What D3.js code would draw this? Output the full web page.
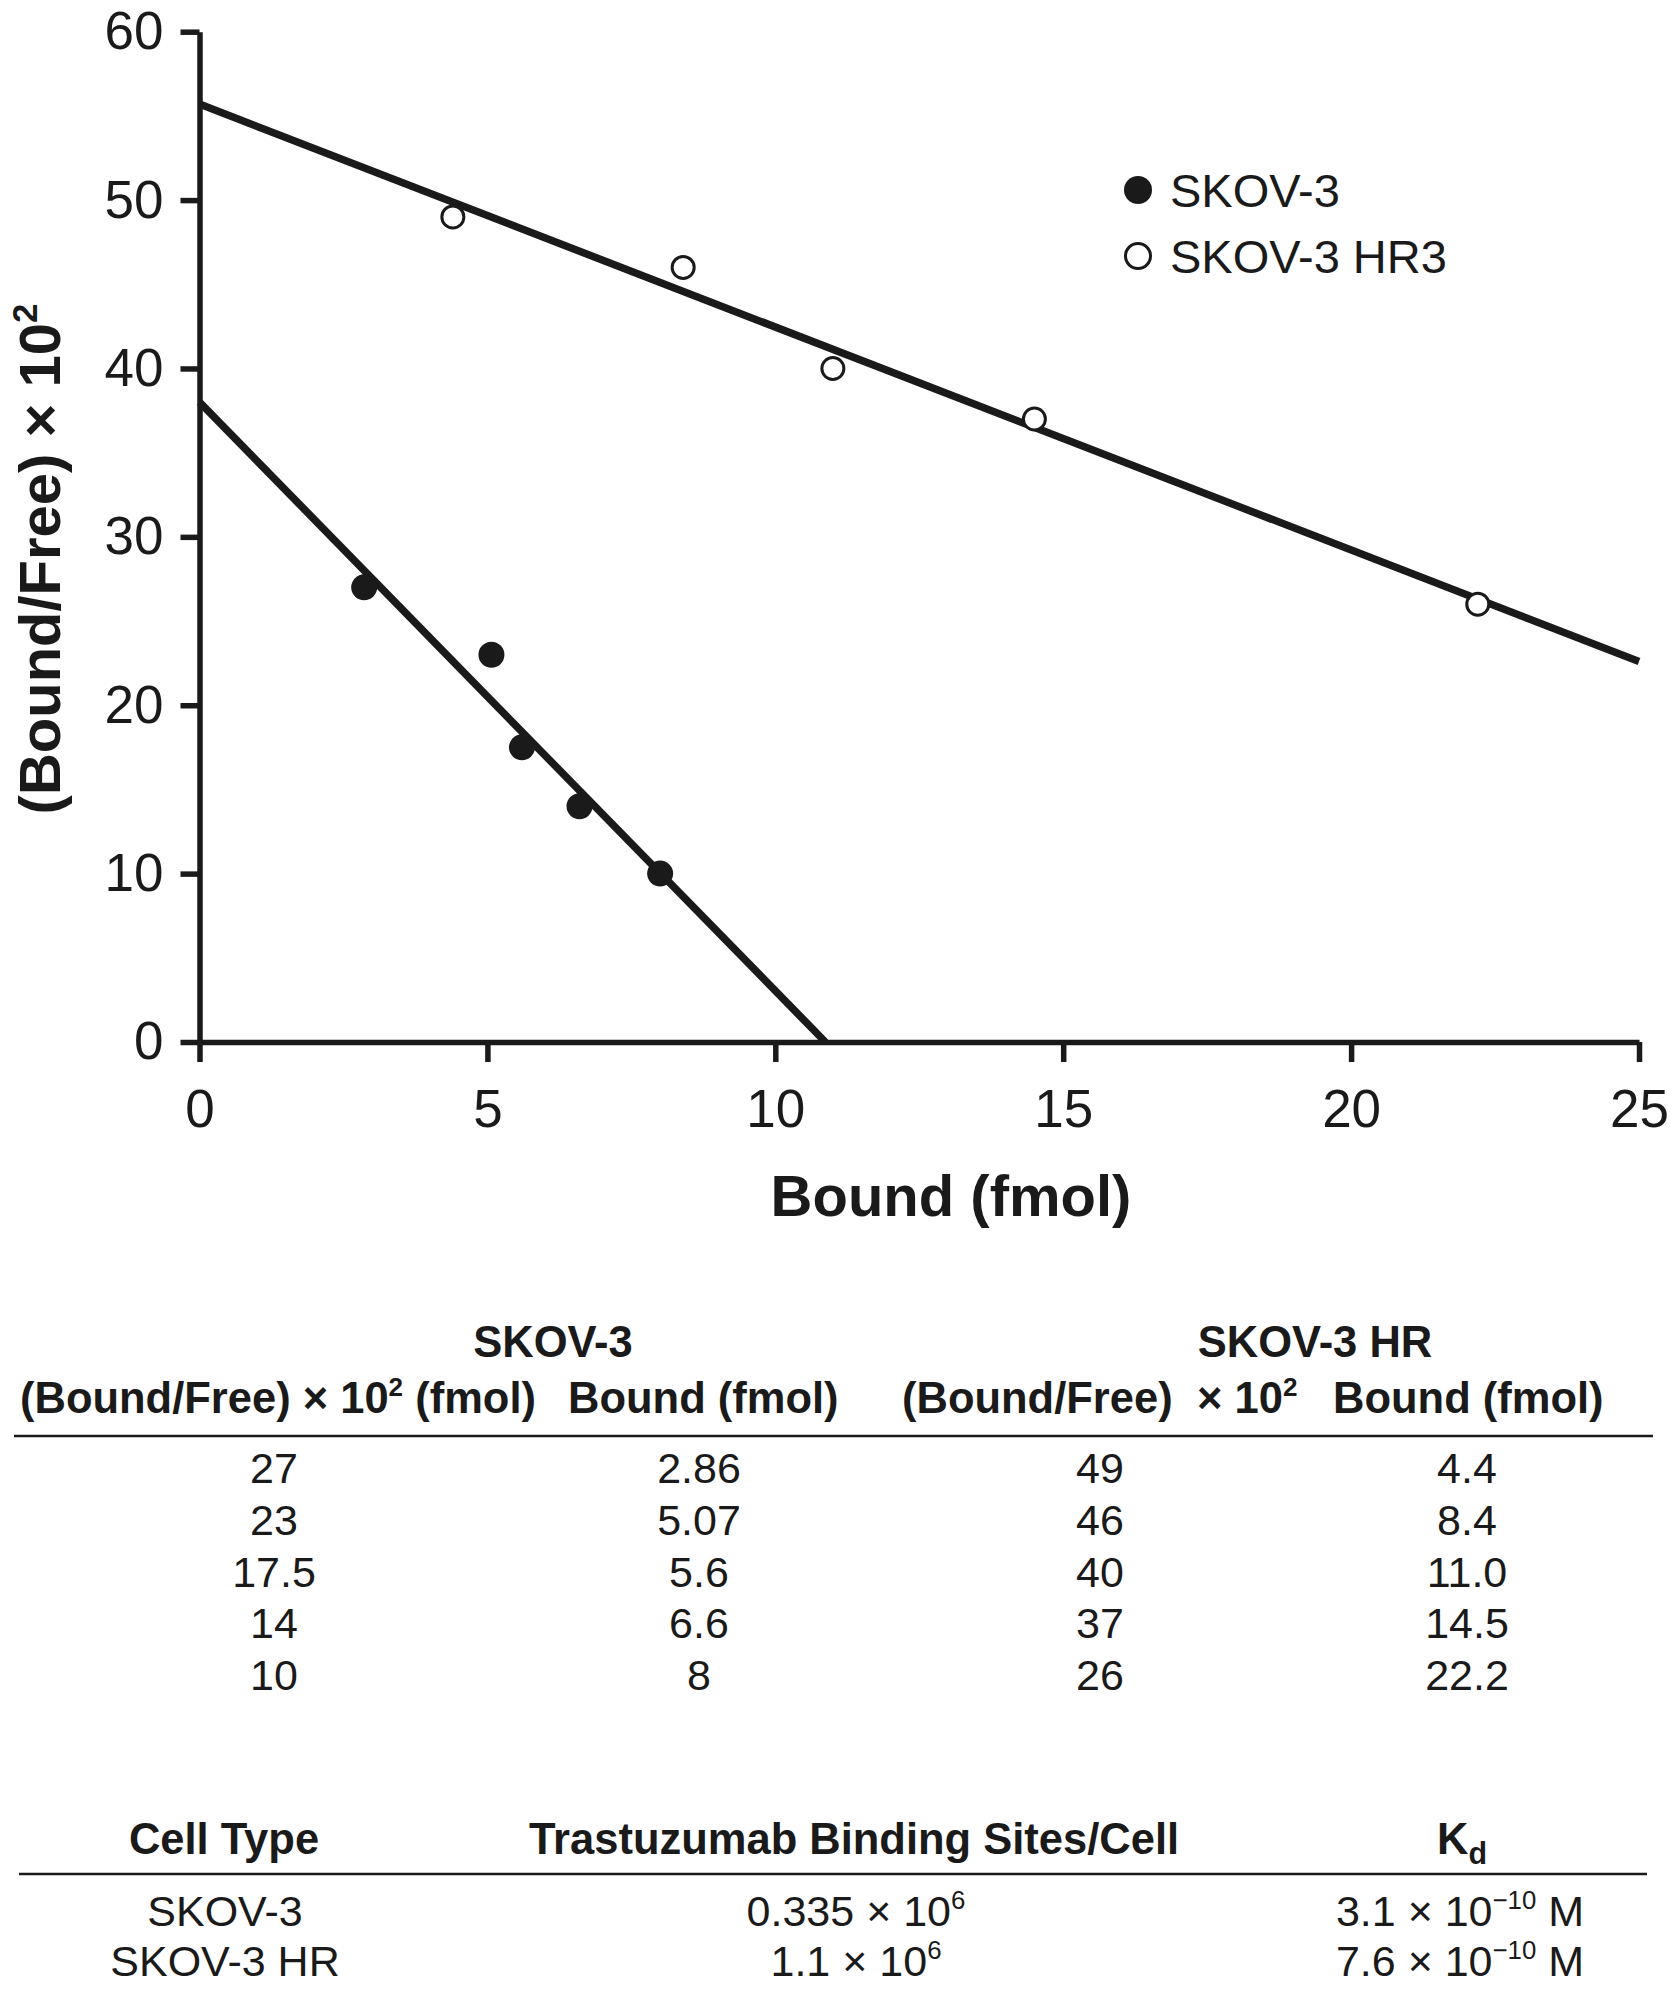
<!DOCTYPE html>
<html>
<head>
<meta charset="utf-8">
<script src="https://cdn.jsdelivr.net/npm/d3@7"></script>
<style>
  html, body { margin: 0; padding: 0; background: #fff; }
  svg { display: block; }
</style>
</head>
<body>
<svg id="viz"></svg>
<script>
// --- Data ---
const skovBound = [2.86, 5.07, 5.6, 6.6, 8];
const skovBF = [27, 23, 17.5, 14, 10];
const hrBound = [4.4, 8.4, 11.0, 14.5, 22.2];
const hrBF = [49, 46, 40, 37, 26];

// fitted lines, endpoints as drawn
const skovFit = [[0, 38.0], [10.87, 0]];
const hrFit = [[0, 55.7], [25, 22.6]];

const xTicks = [0, 5, 10, 15, 20, 25];
const yTicks = [0, 10, 20, 30, 40, 50, 60];

const seriesNames = ["SKOV-3", "SKOV-3 HR3"];

// summary table
const cellTypes = ["SKOV-3", "SKOV-3 HR"];
const bindingSites = ["0.335", "1.1"];   // x 10^6
const kdValues = ["3.1", "7.6"];         // x 10^-10 M

const width = 1677;
const height = 1996;
const ink = "#1a1a1a";
const font = "'Liberation Sans', Arial, Helvetica, sans-serif";

const svg = d3.select("#viz")
  .attr("width", width)
  .attr("height", height)
  .attr("font-family", font)
  .attr("fill", ink);

svg.append("rect").attr("width", width).attr("height", height).attr("fill", "#fff");

const x = d3.scaleLinear().domain([0, 25]).range([199.5, 1639]);
const y = d3.scaleLinear().domain([0, 60]).range([1042, 31.7]);

// text with superscript / subscript parts
function richText(g, parts, size) {
  let shift = 0;
  parts.forEach(p => {
    const target = p.sup ? -size * 0.4 : p.sub ? size * 0.22 : 0;
    g.append("tspan")
      .attr("dy", target - shift)
      .attr("font-size", p.sup ? size * 0.6 : p.sub ? size * 0.7 : size)
      .text(p.t);
    shift = target;
  });
}

// --- Fit lines ---
const line = d3.line().x(d => x(d[0])).y(d => y(d[1]));
[skovFit, hrFit].forEach(f => {
  svg.append("path")
    .attr("d", line(f))
    .attr("fill", "none")
    .attr("stroke", ink)
    .attr("stroke-width", 7.5);
});

// --- Axes ---
const yAxis = svg.append("g")
  .attr("transform", `translate(${x(0)},0)`)
  .call(d3.axisLeft(y).tickValues(yTicks).tickSize(19).tickPadding(17).tickSizeOuter(0));

const xAxis = svg.append("g")
  .attr("transform", `translate(0,${y(0)})`)
  .call(d3.axisBottom(x).tickValues(xTicks).tickSize(20).tickPadding(27).tickSizeOuter(0));

[yAxis, xAxis].forEach(a => {
  a.attr("font-size", null).attr("font-family", null);
  a.selectAll("path, line").attr("stroke", ink).attr("stroke-width", 5.5);
  a.selectAll("text").attr("fill", ink).attr("font-size", 53);
});

// --- Points ---
svg.append("g").selectAll("circle")
  .data(skovBound.map((b, i) => [b, skovBF[i]]))
  .join("circle")
  .attr("cx", d => x(d[0]))
  .attr("cy", d => y(d[1]))
  .attr("r", 13)
  .attr("fill", ink);

svg.append("g").selectAll("circle")
  .data(hrBound.map((b, i) => [b, hrBF[i]]))
  .join("circle")
  .attr("cx", d => x(d[0]))
  .attr("cy", d => y(d[1]))
  .attr("r", 11)
  .attr("fill", "#fff")
  .attr("stroke", ink)
  .attr("stroke-width", 3);

// --- Axis titles ---
svg.append("text")
  .attr("x", 951)
  .attr("y", 1216)
  .attr("text-anchor", "middle")
  .attr("font-weight", "bold")
  .attr("font-size", 58)
  .text("Bound (fmol)");

const yTitle = svg.append("text")
  .attr("transform", "translate(60,559) rotate(-90)")
  .attr("text-anchor", "middle")
  .attr("font-weight", "bold");
richText(yTitle, [{ t: "(Bound/Free) × 10" }, { t: "2", sup: true }], 58);

// --- Legend ---
const legend = svg.append("g");
seriesNames.forEach((name, i) => {
  const cy = 190 + i * 66;
  legend.append("circle")
    .attr("cx", 1138)
    .attr("cy", cy)
    .attr("r", i === 0 ? 14 : 12.5)
    .attr("fill", i === 0 ? ink : "#fff")
    .attr("stroke", ink)
    .attr("stroke-width", i === 0 ? 0 : 3);
  legend.append("text")
    .attr("x", 1170)
    .attr("y", cy + 17)
    .attr("font-size", 47)
    .text(name);
});

// --- Data table ---
const t1 = svg.append("g");
const hSize = 43.5;
const dSize = 43;
[["SKOV-3", 553], ["SKOV-3 HR", 1315]].forEach(([t, cx]) => {
  t1.append("text").attr("x", cx).attr("y", 1357)
    .attr("text-anchor", "middle").attr("font-weight", "bold")
    .attr("font-size", hSize).text(t);
});

const subHeads = [
  { x: 20, parts: [{ t: "(Bound/Free) × 10" }, { t: "2", sup: true }, { t: " (fmol)" }] },
  { x: 568, parts: [{ t: "Bound (fmol)" }] },
  { x: 902, parts: [{ t: "(Bound/Free)" }] },
  { x: 1197, parts: [{ t: "× 10" }, { t: "2", sup: true }] },
  { x: 1333, parts: [{ t: "Bound (fmol)" }] }
];
subHeads.forEach(h => {
  const tx = t1.append("text").attr("x", h.x).attr("y", 1413).attr("font-weight", "bold");
  richText(tx, h.parts, hSize);
});

t1.append("line")
  .attr("x1", 14).attr("x2", 1653)
  .attr("y1", 1436).attr("y2", 1436)
  .attr("stroke", ink).attr("stroke-width", 2.5);

const fmt1 = d3.format(".1f");
const columns = [
  { cx: 274, vals: skovBF.map(String) },
  { cx: 699, vals: skovBound.map(String) },
  { cx: 1100, vals: hrBF.map(String) },
  { cx: 1467, vals: hrBound.map(fmt1) }
];
columns.forEach(col => {
  t1.append("g").selectAll("text")
    .data(col.vals)
    .join("text")
    .attr("x", col.cx)
    .attr("y", (d, i) => 1483 + i * 51.8)
    .attr("text-anchor", "middle")
    .attr("font-size", dSize)
    .text(d => d);
});

// --- Summary table ---
const t2 = svg.append("g");
const heads2 = [
  { cx: 224, parts: [{ t: "Cell Type" }] },
  { cx: 854, parts: [{ t: "Trastuzumab Binding Sites/Cell" }] },
  { cx: 1462, parts: [{ t: "K" }, { t: "d", sub: true }] }
];
heads2.forEach(h => {
  const tx = t2.append("text").attr("x", h.cx).attr("y", 1854)
    .attr("text-anchor", "middle").attr("font-weight", "bold");
  richText(tx, h.parts, hSize);
});

t2.append("line")
  .attr("x1", 19).attr("x2", 1647)
  .attr("y1", 1874).attr("y2", 1874)
  .attr("stroke", ink).attr("stroke-width", 2.5);

cellTypes.forEach((c, i) => {
  const yy = 1926 + i * 50;
  t2.append("text").attr("x", 225).attr("y", yy)
    .attr("text-anchor", "middle").attr("font-size", dSize).text(c);
  const b = t2.append("text").attr("x", 856).attr("y", yy).attr("text-anchor", "middle");
  richText(b, [{ t: bindingSites[i] + " × 10" }, { t: "6", sup: true }], dSize);
  const k = t2.append("text").attr("x", 1460).attr("y", yy).attr("text-anchor", "middle");
  richText(k, [{ t: kdValues[i] + " × 10" }, { t: "−10", sup: true }, { t: " M" }], dSize);
});
</script>
</body>
</html>
